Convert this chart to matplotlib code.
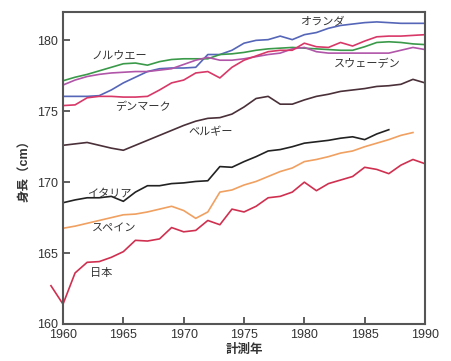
import numpy as np
import matplotlib.pyplot as plt

plt.rcParams['font.family'] = ['Liberation Sans', 'Noto Sans CJK JP']

years = list(range(1960, 1991))

# 身長データ (cm)
netherlands = [176.05, 176.05, 176.05, 176.1, 176.5, 177.0, 177.4, 177.8, 178.0, 178.05,
               178.05, 178.1, 179.0, 179.0, 179.3, 179.8, 180.0, 180.05, 180.3, 180.05,
               180.4, 180.55, 180.85, 181.05, 181.15, 181.25, 181.3, 181.25, 181.2, 181.2, 181.2]
norway = [177.15, 177.4, 177.6, 177.85, 178.1, 178.35, 178.4, 178.25, 178.5, 178.65,
          178.7, 178.7, 178.7, 179.0, 179.05, 179.15, 179.3, 179.4, 179.45, 179.5,
          179.45, 179.4, 179.35, 179.3, 179.3, 179.55, 179.85, 179.9, 179.85, 179.75, 179.7]
sweden = [176.85, 177.2, 177.45, 177.6, 177.7, 177.75, 177.8, 177.8, 177.9, 178.0,
          178.3, 178.6, 178.8, 178.6, 178.6, 178.7, 178.85, 179.0, 179.1, 179.4,
          179.5, 179.2, 179.1, 179.1, 179.1, 179.1, 179.1, 179.1, 179.3, 179.5, 179.35]
denmark = [175.4, 175.45, 175.95, 176.05, 176.05, 176.0, 176.0, 176.05, 176.5, 177.0,
           177.2, 177.7, 177.8, 177.35, 178.1, 178.6, 178.9, 179.2, 179.3, 179.3,
           179.8, 179.55, 179.5, 179.85, 179.6, 179.95, 180.25, 180.3, 180.3, 180.35, 180.4]
belgium = [172.6, 172.7, 172.8, 172.6, 172.4, 172.25, 172.6, 172.95, 173.3, 173.65,
           174.0, 174.3, 174.5, 174.55, 174.8, 175.3, 175.9, 176.05, 175.5, 175.5,
           175.8, 176.05, 176.2, 176.4, 176.5, 176.6, 176.75, 176.8, 176.9, 177.25, 177.0]
italy = [168.55, 168.75, 168.9, 168.9, 169.0, 168.65, 169.3, 169.75, 169.75, 169.9,
         169.95, 170.05, 170.1, 171.1, 171.05, 171.45, 171.8, 172.2, 172.3, 172.5,
         172.75, 172.85, 172.95, 173.1, 173.2, 173.0, 173.4, 173.7]
spain = [166.75, 166.9, 167.1, 167.3, 167.5, 167.7, 167.75, 167.9, 168.1, 168.3,
         168.0, 167.45, 167.9, 169.3, 169.45, 169.8, 170.05, 170.4, 170.75, 171.0,
         171.45, 171.6, 171.8, 172.05, 172.2, 172.5, 172.75, 173.0, 173.3, 173.5]
japan_years = list(range(1959, 1991))
japan = [162.7, 161.4, 163.6, 164.35, 164.4, 164.7, 165.1, 165.9, 165.85, 166.0, 166.8,
         166.5, 166.6, 167.3, 167.0, 168.1, 167.9, 168.3, 168.9, 169.0, 169.3,
         170.0, 169.4, 169.9, 170.15, 170.4, 171.05, 170.9, 170.6, 171.2, 171.6, 171.3]

fig = plt.figure(figsize=(4.52, 3.61), dpi=100)
ax = fig.add_axes([0.1394, 0.1025, 0.8009, 0.8643])

lw = 1.2
ax.plot(years, netherlands, color='#5566b8', lw=lw)
ax.plot(years, norway, color='#3a9a4a', lw=lw)
ax.plot(years, sweden, color='#b055a8', lw=lw)
ax.plot(years, denmark, color='#d83868', lw=lw)
ax.plot(years, belgium, color='#4a3038', lw=lw)
ax.plot(years[:len(italy)], italy, color='#222222', lw=lw)
ax.plot(years[:len(spain)], spain, color='#f0a060', lw=lw)
ax.plot(japan_years, japan, color='#d03050', lw=lw, clip_on=False)

txt = dict(fontsize=8, color='#333333', ha='center', va='center')
ax.text(1981.5, 181.3, 'オランダ', **txt)
ax.text(1964.7, 178.9, 'ノルウエー', **txt)
ax.text(1966.6, 175.3, 'デンマーク', **txt)
ax.text(1985.2, 178.35, 'スウェーデン', **txt)
ax.text(1972.2, 173.5, 'ベルギー', **txt)
ax.text(1963.8, 169.2, 'イタリア', **txt)
ax.text(1964.2, 166.7, 'スペイン', **txt)
ax.text(1963.2, 163.6, '日本', **txt)

ax.set_xlim(1960, 1990)
ax.set_ylim(160, 182)
ax.set_xticks(range(1960, 1991, 5))
ax.set_yticks(range(160, 181, 5))
ax.tick_params(direction='in', length=5, width=1.2, color='#444444',
               labelsize=9, labelcolor='#333333')
for s in ax.spines.values():
    s.set_color('#555555')
    s.set_linewidth(1.5)

ax.set_xlabel('計測年', fontsize=9, color='#333333', labelpad=2, fontweight='bold')
ax.set_ylabel('身長（cm）', fontsize=9, color='#333333', labelpad=4, fontweight='bold')

plt.savefig('out.png', dpi=100)
plt.close()
